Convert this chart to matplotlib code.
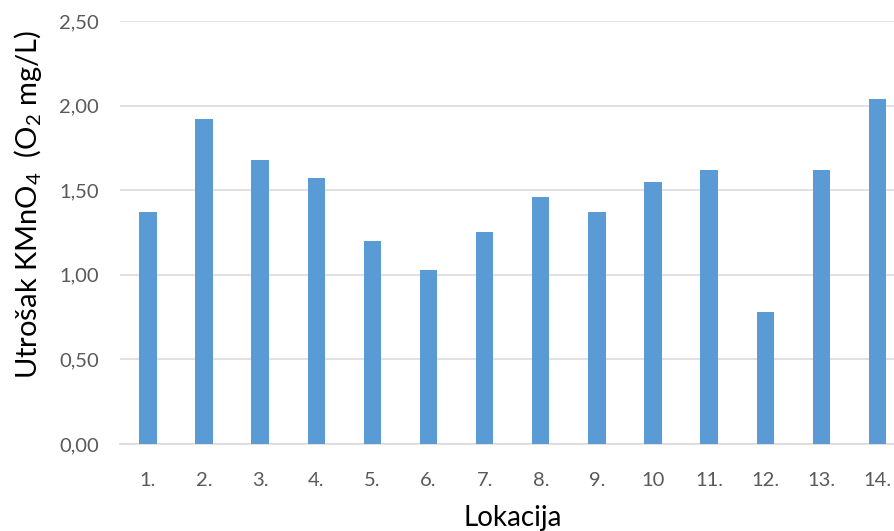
import numpy as np
import matplotlib
matplotlib.use("Agg")
import matplotlib.pyplot as plt
from matplotlib.ticker import FuncFormatter

# ── data ─────────────────────────────────────────────────────────────────────
locations = ["1.", "2.", "3.", "4.", "5.", "6.", "7.", "8.", "9.", "10",
             "11.", "12.", "13.", "14."]
kmno4 = [1.37, 1.92, 1.68, 1.57, 1.20, 1.03, 1.25, 1.46, 1.37, 1.55,
         1.62, 0.78, 1.62, 2.04]

plt.rcParams["font.family"] = ["Lato", "DejaVu Sans"]
plt.rcParams["mathtext.fontset"] = "custom"
plt.rcParams["mathtext.rm"] = "Lato"
plt.rcParams["mathtext.it"] = "Lato:italic"

fig = plt.figure(figsize=(8.94, 5.31), dpi=100)
# the right edge of the plot area is cut off in the reference
ax = fig.add_axes([0.134, 0.1638, 0.879, 0.7967])

x = np.arange(len(locations))
ax.bar(x, kmno4, width=0.31, color="#5B9BD5", zorder=3)

ax.set_xlim(-0.5, len(locations) - 0.5)
ax.set_ylim(0, 2.5)
ax.set_yticks(np.arange(0, 2.51, 0.5))
ax.yaxis.set_major_formatter(FuncFormatter(lambda v, p: f"{v:.2f}".replace(".", ",")))
ax.set_xticks(x)
ax.set_xticklabels(locations)

ax.grid(axis="y", color="#D9D9D9", linewidth=1.1, zorder=0)
for s in ["top", "right", "left"]:
    ax.spines[s].set_visible(False)
ax.spines["bottom"].set_color("#D9D9D9")
ax.spines["bottom"].set_linewidth(1.1)
ax.tick_params(axis="both", length=0, labelsize=14.5, colors="#595959")
ax.tick_params(axis="y", pad=15)
ax.tick_params(axis="x", pad=20)

ax.set_xlabel("Lokacija", fontsize=20, labelpad=12)
ax.set_ylabel(r"Utrošak KMnO$_4$  (O$_2$ mg/L)", fontsize=21)
# label sits a bit above the middle of the axis in the reference
ax.yaxis.set_label_coords(-0.097, 0.567)

fig.savefig("out.png", dpi=100)
